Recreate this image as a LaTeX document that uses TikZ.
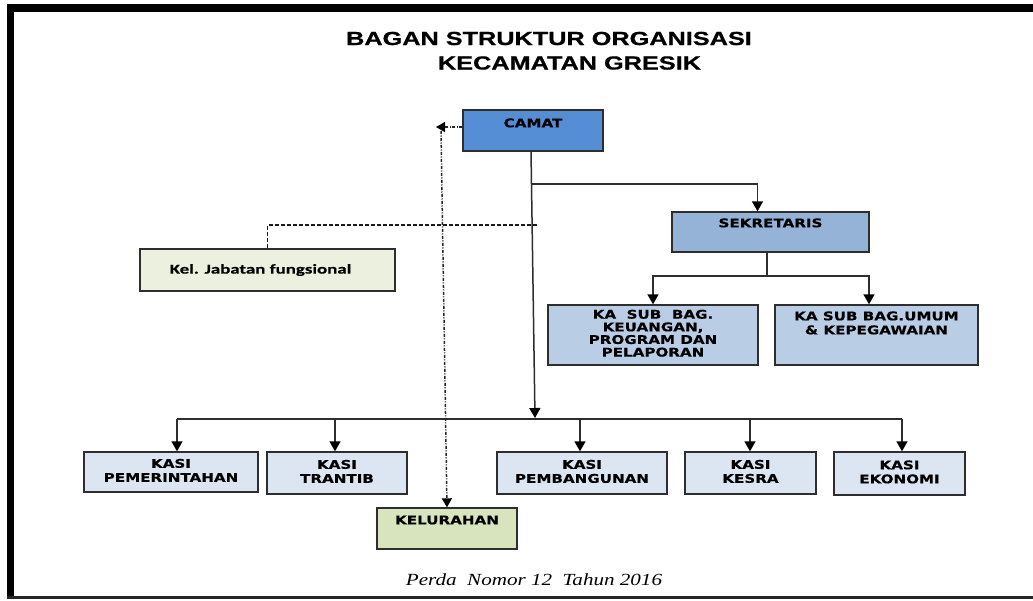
\documentclass[tikz,border=0pt]{standalone}
\usepackage{fontspec}
\usepackage{graphicx}
\setmainfont{DejaVu Sans}[BoldFeatures={FakeBold=0.4}]
\newfontfamily\titlefont{Liberation Sans}[BoldFeatures={FakeBold=0.6}]
\newfontfamily\calfont{Carlito}[BoldFeatures={FakeBold=0.4}]
\newfontfamily\footfont{Liberation Serif}
\usetikzlibrary{arrows.meta}
\definecolor{camatc}{HTML}{558ED5}
\definecolor{sekc}{HTML}{95B3D7}
\definecolor{subc}{HTML}{B9CDE5}
\definecolor{kasic}{HTML}{DCE6F2}
\definecolor{jabc}{HTML}{EBF1DE}
\definecolor{kelc}{HTML}{D7E4BD}
\definecolor{edgec}{HTML}{2E2E2E}
\newcommand\bxt[1]{\scalebox{1.26}[1]{\begin{tabular}{@{}c@{}}#1\end{tabular}}}
\begin{document}
\begin{tikzpicture}[x=1pt,y=-1pt,
  box/.style={draw=edgec,line width=1.4pt,inner sep=0pt,font=\fontsize{12}{14}\selectfont\bfseries},
  line/.style={draw=edgec,line width=1.5pt},
  arr/.style={line,-{Triangle[length=10pt,width=11pt,fill=black,color=black]}},
  dd/.style={draw=black!85,line width=1.5pt,dash pattern=on 3pt off 1.5pt on 1pt off 1.5pt},
  ddtip/.style={-{Triangle[length=9pt,width=10pt,fill=black,color=black]}},
  dsh/.style={draw=black!90,line width=1.2pt,dash pattern=on 4pt off 2pt},
  toplab/.style={anchor=north,inner sep=0pt,font=\fontsize{12}{14}\selectfont\bfseries}]
\useasboundingbox (0,0) rectangle (1033,600);
\fill[white] (0,0) rectangle (1033,600);
% frame
\fill[black] (7,4) rectangle (1033,12);
\fill[black] (7,4) rectangle (14,597);
\fill[black!85] (7,596) rectangle (1033,598.5);
% title
\node[font=\titlefont\fontsize{19}{22}\selectfont\bfseries] (t1) at (549,38.5) {\scalebox{1.33}[1]{BAGAN STRUKTUR ORGANISASI}};
\node[font=\titlefont\fontsize{19}{22}\selectfont\bfseries] (t2) at (569.5,63) {\scalebox{1.33}[1]{KECAMATAN GRESIK}};
% boxes
\node[box,fill=camatc,minimum width=140,minimum height=41,
  label={[toplab,yshift=-8pt]north:\bxt{CAMAT}}] (camat) at (533,130.5) {};
\node[box,fill=sekc,minimum width=197,minimum height=40,
  label={[toplab,yshift=-6pt]north:\bxt{SEKRETARIS}}] (sek) at (770.5,232) {};
\node[box,fill=subc,minimum width=210,minimum height=60] (keu) at (653,335)
  {\fontsize{12}{12.4}\selectfont\bxt{KA\ \ SUB\ \ BAG.\\KEUANGAN,\\PROGRAM DAN\\PELAPORAN}};
\node[box,fill=subc,minimum width=203,minimum height=60,
  label={[toplab,yshift=-6pt]north:\bxt{KA SUB BAG.UMUM\\\& KEPEGAWAIAN}}] (umum) at (876.5,335) {};
\node[box,fill=jabc,minimum width=255,minimum height=42,font=\calfont\fontsize{13.5}{16}\selectfont\bfseries] (jab) at (267.5,270)
  {\hspace*{-14pt}\scalebox{1.4}[1]{Kel. Jabatan fungsional}};
\node[box,fill=kasic,minimum width=174,minimum height=40] (pem) at (171,472) {\bxt{KASI\\PEMERINTAHAN}};
\node[box,fill=kasic,minimum width=140,minimum height=42] (tra) at (337,473) {\bxt{KASI\\TRANTIB}};
\node[box,fill=kasic,minimum width=170,minimum height=42] (pemb) at (582,473) {\bxt{KASI\\PEMBANGUNAN}};
\node[box,fill=kasic,minimum width=131,minimum height=42] (kes) at (750.5,473) {\bxt{KASI\\KESRA}};
\node[box,fill=kasic,minimum width=131,minimum height=43] (eko) at (899.5,473.5) {\bxt{KASI\\EKONOMI}};
\node[box,fill=kelc,minimum width=140,minimum height=41,
  label={[toplab,yshift=-7pt]north:\bxt{KELURAHAN}}] (kel) at (447,528.5) {};
% footer
\node[font=\footfont\fontsize{17}{20}\selectfont\itshape] (foot) at (534,580) {\scalebox{1.24}[1]{Perda\ \ Nomor 12\ \ Tahun 2016}};
% coordinates
\coordinate (mtop) at (531,151);
\coordinate (mend) at (535,418);
\coordinate (b1) at (531.7,184);
\coordinate (jd) at (537,225);
\coordinate (sb) at (767,276);
\coordinate (p1) at (177,419);
\coordinate (p2) at (335,419);
\coordinate (p3) at (580,419);
\coordinate (p4) at (750,419);
\coordinate (p5) at (902,419);
\coordinate (dl) at (436,127);
\coordinate (dtop) at (441,131);
% connectors
\draw[arr] (mtop) -- (mend);
\draw[arr] (b1) -| ([xshift=-13pt]sek.north);
\draw[line] ([xshift=-3.5pt]sek.south) -- (sb);
\draw[arr] (sb) -| (keu.north);
\draw[arr] (sb) -| ([xshift=-7.5pt]umum.north);
\draw[dsh] (jd) -| (jab.north);
\draw[line] (p1) -- (p5);
\draw[arr] (p1) -- (p1 |- pem.north);
\draw[arr] (p2) -- (p2 |- tra.north);
\draw[arr] (p3) -- (p3 |- pemb.north);
\draw[arr] (p4) -- (p4 |- kes.north);
\draw[arr] (p5) -- (p5 |- eko.north);
\draw[dd,ddtip] ([yshift=3.5pt]camat.west) -- (dl);
\draw[dd,ddtip] (dtop) -- (kel.north);
\end{tikzpicture}
\end{document}
